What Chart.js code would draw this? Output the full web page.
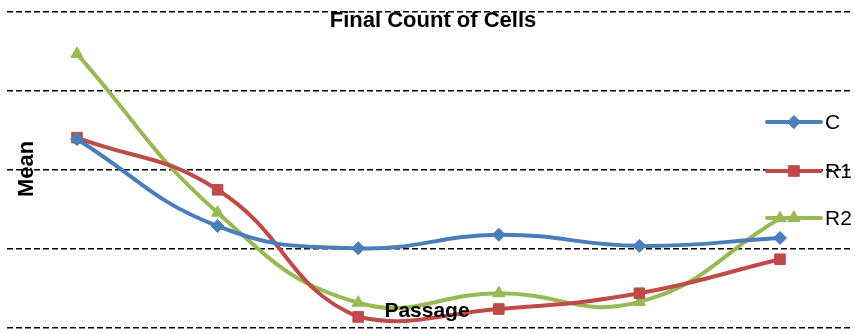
<!DOCTYPE html>
<html><head><meta charset="utf-8">
<script src="https://cdn.jsdelivr.net/npm/chart.js@4/dist/chart.umd.min.js"></script>
<style>html,body{margin:0;padding:0;background:#fff}canvas{display:block}</style>
</head><body>
<canvas id="c" width="855" height="333"></canvas>
<script>
const categories = ["1", "2", "3", "4", "5", "6"];
const seriesC  = [2.39, 1.29, 1.01, 1.18, 1.04, 1.14];
const seriesR1 = [2.41, 1.75, 0.14, 0.24, 0.44, 0.87];
const seriesR2 = [3.47, 1.46, 0.32, 0.44, 0.33, 1.39];
const titleText = "Final Count of Cells";
const xTitle = "Passage";
const yTitle = "Mean";

const BLUE = "#4A7EBB", RED = "#BE4B48", GREEN = "#98B954";

function ds(label, data, color, style, r) {
  return { label, data, borderColor: color, backgroundColor: color, borderWidth: 4,
    pointStyle: style, pointRadius: r, pointHoverRadius: r, pointBorderWidth: 1,
    tension: 0.45, fill: false, clip: false };
}

const overlay = {
  id: 'overlay',
  afterDraw(chart) {
    const ctx = chart.ctx;
    ctx.save();
    ctx.fillStyle = '#000';
    ctx.textAlign = 'center';
    ctx.textBaseline = 'middle';
    ctx.font = 'bold 22px "Liberation Sans", Arial, sans-serif';
    ctx.fillText(titleText, 433, 21);
    ctx.font = 'bold 21px "Liberation Sans", Arial, sans-serif';
    ctx.fillText(xTitle, 427, 311);
    ctx.save();
    ctx.translate(27, 169);
    ctx.rotate(-Math.PI / 2);
    ctx.font = 'bold 22px "Liberation Sans", Arial, sans-serif';
    ctx.fillText(yTitle, 0, 0);
    ctx.restore();
    const items = chart.data.datasets;
    const ys = [122, 171, 218];
    items.forEach((d, i) => {
      const y = ys[i];
      ctx.strokeStyle = d.borderColor;
      ctx.lineWidth = 4;
      ctx.lineCap = 'round';
      ctx.beginPath(); ctx.moveTo(767, y); ctx.lineTo(821, y); ctx.stroke();
      ctx.fillStyle = d.borderColor;
      ctx.lineWidth = 1;
      Chart.helpers.drawPoint(ctx, { pointStyle: d.pointStyle, radius: d.pointRadius, borderWidth: 1, rotation: 0 }, 794, y);
      ctx.fillStyle = '#000';
      ctx.textAlign = 'left';
      ctx.font = '21px "Liberation Sans", Arial, sans-serif';
      ctx.fillText(d.label, 825, y + 1);
    });
    ctx.restore();
  }
};

new Chart(document.getElementById('c'), {
  type: 'line',
  data: {
    labels: categories,
    datasets: [
      ds("C", seriesC, BLUE, 'rectRot', 6.5),
      ds("R1", seriesR1, RED, 'rect', 7.5),
      ds("R2", seriesR2, GREEN, 'triangle', 7)
    ]
  },
  options: {
    responsive: false,
    animation: false,
    devicePixelRatio: 1,
    layout: { autoPadding: false, padding: { left: 6.7, right: 4.7, top: 12, bottom: 5 } },
    plugins: { legend: { display: false }, title: { display: false }, tooltip: { enabled: false } },
    scales: {
      x: { display: false, offset: true },
      y: {
        min: 0, max: 4,
        ticks: { display: false, stepSize: 1 },
        border: { display: false, dash: [6, 3] },
        grid: { color: '#000', lineWidth: 1.5, drawTicks: false, tickLength: 0 }
      }
    }
  },
  plugins: [overlay]
});
</script>
</body></html>
